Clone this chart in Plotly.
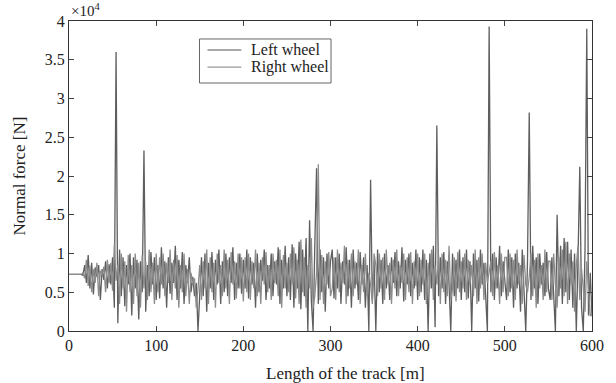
import plotly.graph_objects as go

# Normal force values in units of 10^4 N, sampled every 2 m from 0 to 600 m
left_wheel = [
    0.73, 0.73, 0.73, 0.73, 0.73, 0.73, 0.73, 0.73,
    0.72, 0.85, 0.62, 0.98, 0.55, 0.88, 0.47, 0.82, 0.70, 0.85, 0.40, 0.80, 0.66, 0.90, 0.55, 0.86, 0.60, 0.95,
    0.30, 3.60, 0.10, 1.05, 0.45, 0.95, 0.32, 0.85, 0.60, 1.00, 0.20, 0.95, 0.55, 0.92, 0.15, 0.90, 0.50, 2.33, 0.25, 0.85, 0.45, 1.02, 0.60, 0.95, 0.40,
    0.85, 0.42, 1.08, 0.55, 0.90, 0.30, 0.95, 0.48, 0.88, 0.62, 1.10, 0.40, 0.92, 0.55, 1.02, 0.35, 0.85, 0.62, 0.95, 0.50, 0.70, 0.45, 0.62, 0.00, 0.60,
    0.95, 0.45, 1.00, 0.25, 0.88, 0.55, 1.02, 0.40, 0.92, 0.60, 1.05, 0.35, 0.90, 0.50, 1.00, 0.45, 0.95, 0.62, 1.08, 0.40, 0.88, 0.55, 1.00, 0.48, 0.92,
    0.55, 1.05, 0.42, 0.95, 0.60, 0.88, 0.30, 1.00, 0.50, 0.92, 0.65, 1.05, 0.40, 0.85, 0.55, 1.00, 0.45, 0.90, 0.60, 1.08, 0.35, 0.92, 0.55, 1.10, 0.45,
    0.95, 0.40, 1.12, 0.30, 1.00, 0.55, 1.15, 0.28, 1.05, 0.45, 1.20, 0.00, 1.43, 0.40, 0.00, 1.10, 2.10, 0.35, 1.05, 0.50, 0.95, 0.25, 1.00, 0.55, 0.90,
    1.05, 0.42, 0.95, 0.55, 1.00, 0.35, 0.90, 0.60, 1.08, 0.45, 0.92, 0.30, 1.05, 0.55, 0.88, 0.40, 1.02, 0.60, 0.95, 0.30, 0.85, 0.00, 1.95, 0.40, 0.90,
    0.00, 1.05, 0.50, 0.92, 0.35, 1.00, 0.55, 0.85, 0.40, 0.95, 0.62, 1.02, 0.45, 0.90, 0.55, 1.08, 0.38, 0.92, 0.60, 1.00, 0.45, 0.88, 0.55, 1.05, 0.40,
    0.95, 0.50, 1.05, 0.40, 0.92, 0.00, 1.00, 0.55, 1.10, 0.05, 2.65, 0.45, 0.95, 0.55, 1.02, 0.35, 0.90, 0.60, 0.00, 1.00, 0.45, 0.92, 0.55, 1.05, 0.40,
    0.95, 0.50, 1.05, 0.42, 0.90, 0.00, 1.00, 0.55, 0.92, 0.38, 1.05, 0.60, 0.88, 0.45, 0.00, 3.93, 0.50, 1.00, 0.40, 0.95, 0.55, 1.10, 0.45, 0.90, 0.60,
    0.40, 1.05, 0.50, 0.95, 0.30, 1.00, 0.55, 0.88, 0.25, 1.05, 0.45, 0.00, 0.90, 2.82, 0.40, 1.10, 0.55, 0.95, 0.35, 1.00, 0.60, 0.88, 0.45, 1.02, 0.55,
    0.40, 0.95, 0.55, 0.00, 1.50, 0.45, 1.10, 0.35, 1.20, 0.50, 1.15, 0.40, 1.05, 0.30, 1.00, 0.00, 0.95, 2.12, 0.30, 0.00, 1.05, 3.90, 0.20, 0.75, 0.20,
]

right_wheel = [
    0.73, 0.73, 0.73, 0.73, 0.73, 0.73, 0.73, 0.73,
    0.75, 0.68, 0.92, 0.58, 0.84, 0.50, 0.80, 0.62, 0.88, 0.45, 0.78, 0.72, 0.83, 0.50, 0.92, 0.62, 0.88, 0.52,
    1.12, 0.65, 0.85, 0.35, 1.00, 0.55, 0.90, 0.25, 0.98, 0.50, 0.85, 0.35, 1.00, 0.45, 0.88, 0.30, 0.98, 0.55, 0.90, 0.40, 1.05, 0.50, 0.88, 0.35, 1.00,
    0.50, 0.95, 0.60, 1.00, 0.45, 0.88, 0.62, 1.05, 0.40, 0.92, 0.55, 0.98, 0.30, 0.85, 0.50, 1.00, 0.45, 0.80, 0.35, 0.75, 0.60, 0.68, 0.30, 0.55, 0.85,
    0.40, 0.90, 0.55, 1.05, 0.35, 0.95, 0.50, 0.88, 0.30, 1.00, 0.62, 0.85, 0.45, 1.05, 0.55, 0.92, 0.35, 1.02, 0.60, 0.90, 0.42, 1.00, 0.55, 0.95, 0.38,
    0.95, 0.50, 1.00, 0.40, 0.90, 0.55, 1.05, 0.45, 0.88, 0.35, 0.95, 0.60, 1.02, 0.50, 0.85, 0.40, 1.00, 0.62, 0.92, 0.45, 1.05, 0.30, 0.98, 0.55, 0.88,
    0.50, 1.00, 0.60, 1.08, 0.42, 0.92, 0.35, 1.18, 0.50, 0.95, 0.30, 0.85, 0.55, 1.20, 0.30, 0.45, 0.75, 2.15, 0.40, 0.98, 0.35, 0.90, 0.60, 1.02, 0.45,
    0.55, 0.95, 0.40, 1.05, 0.50, 0.88, 0.62, 1.10, 0.35, 0.92, 0.55, 1.00, 0.45, 0.90, 0.60, 1.05, 0.35, 0.85, 0.50, 1.00, 0.45, 0.75, 0.60, 0.35, 1.00,
    0.85, 0.45, 1.00, 0.55, 0.95, 0.40, 1.05, 0.60, 0.88, 0.35, 0.92, 0.55, 1.05, 0.45, 0.85, 0.62, 1.00, 0.40, 0.95, 0.50, 1.02, 0.35, 0.90, 0.58, 1.00,
    0.45, 0.92, 0.60, 1.00, 0.35, 0.88, 0.55, 1.05, 0.40, 0.85, 0.60, 0.98, 0.35, 1.00, 0.50, 0.92, 0.45, 1.10, 0.40, 0.55, 0.95, 0.38, 1.02, 0.50, 0.90,
    0.55, 1.00, 0.40, 0.92, 0.60, 0.85, 0.45, 1.05, 0.35, 0.95, 0.55, 1.00, 0.40, 0.88, 0.62, 0.75, 0.90, 0.45, 1.02, 0.55, 0.85, 0.35, 1.00, 0.50, 0.95,
    0.95, 0.45, 1.00, 0.55, 0.92, 0.40, 1.05, 0.60, 0.85, 0.35, 0.98, 0.60, 0.50, 0.70, 1.00, 0.45, 0.92, 0.30, 1.00, 0.55, 0.85, 0.40, 1.05, 0.50, 0.90,
    0.90, 0.40, 1.00, 0.60, 0.30, 0.95, 0.55, 1.05, 0.45, 1.15, 0.35, 1.00, 0.60, 0.90, 0.25, 0.85, 1.10, 0.40, 0.80, 0.55, 0.25, 0.90, 0.55, 0.20, 0.20,
]

series_names = ["Left wheel", "Right wheel"]
series_colors = ["#5e5e5e", "#8c8c8c"]
legend_colors = ["#555555", "#999999"]

sample_step_m = 2
scale = 1e4
y_ticks = [0, 0.5, 1, 1.5, 2, 2.5, 3, 3.5, 4]
y_tick_text = ["0", "0.5", "1", "1.5", "2", "2.5", "3", "3.5", "4"]
x_ticks = [0, 100, 200, 300, 400, 500, 600]

x_left = [i * sample_step_m for i in range(len(left_wheel))]
x_right = [i * sample_step_m for i in range(len(right_wheel))]

FONT = "Liberation Serif, Times New Roman, serif"

fig = go.Figure()
for xs, vals, name, col in [(x_left, left_wheel, series_names[0], series_colors[0]),
                            (x_right, right_wheel, series_names[1], series_colors[1])]:
    fig.add_trace(go.Scatter(x=xs, y=[v * scale for v in vals], mode="lines",
                             name=name, line=dict(color=col, width=1.3), showlegend=False))

# Legend drawn as a boxed key (paper coordinates)
shapes = [dict(type="rect", xref="paper", yref="paper", x0=0.2495, x1=0.501, y0=0.80, y1=0.942,
               line=dict(color="#666", width=1), fillcolor="white", layer="above")]
annotations = []
for k, (name, col) in enumerate(zip(series_names, legend_colors)):
    yk = 0.9065 - k * 0.055
    shapes.append(dict(type="line", xref="paper", yref="paper", x0=0.2648, x1=0.3295, y0=yk, y1=yk,
                       line=dict(color=col, width=1.2), layer="above"))
    annotations.append(dict(text=name, xref="paper", yref="paper", x=0.3448, y=yk,
                            xanchor="left", yanchor="middle", showarrow=False,
                            font=dict(family=FONT, size=16, color="#222")))

annotations.append(dict(text="×10<sup>4</sup>", xref="paper", yref="paper", x=0.0, y=1.0,
                        xanchor="left", yanchor="bottom", showarrow=False,
                        font=dict(family=FONT, size=15, color="#222")))
annotations.append(dict(text="Length of the track [m]", xref="paper", yref="paper", x=0.528, y=-0.1355,
                        xanchor="center", yanchor="middle", showarrow=False,
                        font=dict(family=FONT, size=17, color="#222")))

fig.update_layout(
    width=616, height=383,
    margin=dict(l=69, r=22, t=21, b=52),
    paper_bgcolor="white", plot_bgcolor="white",
    font=dict(family=FONT, size=15, color="#222"),
    showlegend=False,
    shapes=shapes,
    annotations=annotations,
    xaxis=dict(range=[0, 600], tickvals=x_ticks, ticks="inside", ticklen=5,
               showline=True, linecolor="#333", linewidth=1, mirror="ticks",
               showgrid=False, zeroline=False,
               tickfont=dict(family=FONT, size=16)),
    yaxis=dict(range=[0, 4 * scale], tickvals=[t * scale for t in y_ticks], ticktext=y_tick_text,
               ticks="inside", ticklen=5,
               showline=True, linecolor="#333", linewidth=1, mirror="ticks",
               showgrid=False, zeroline=False,
               title=dict(text="Normal force [N]", font=dict(family=FONT, size=17), standoff=14),
               tickfont=dict(family=FONT, size=16)),
)

fig.write_html("out.html")
